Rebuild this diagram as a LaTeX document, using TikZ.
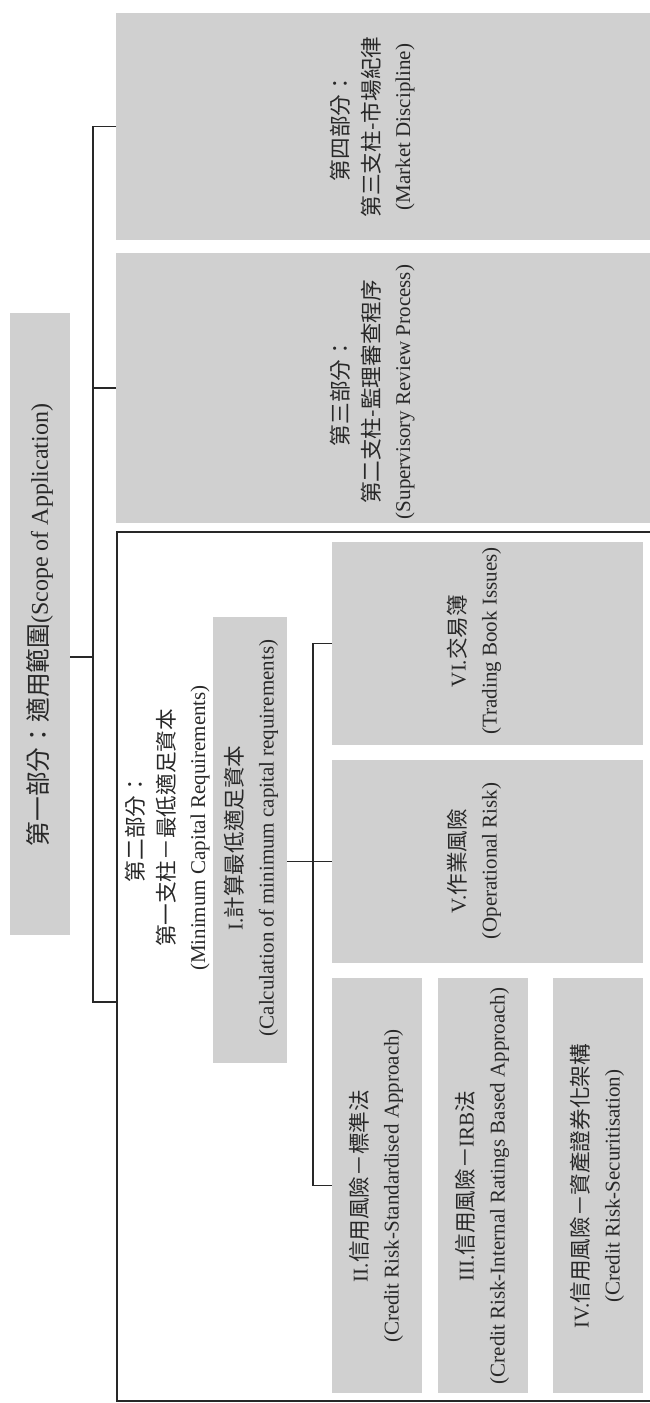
\documentclass[tikz,border=0pt]{standalone}
\usepackage{fontspec}
\usepackage{graphicx}
\setmainfont{Liberation Serif}
\newfontfamily\cjk{Noto Sans CJK TC}[Scale=1.03]
\newcommand\C[1]{{\cjk #1}}
\newcommand\rt[1]{\rotatebox{90}{\fontsize{21}{31}\selectfont\begin{tabular}{@{}c@{}}#1\end{tabular}}}
\definecolor{boxgray}{RGB}{208,208,208}
\definecolor{inkc}{RGB}{40,40,40}
\tikzset{
  box/.style={fill=boxgray, draw=none, inner sep=0pt, outer sep=0pt},
  txt/.style={inner sep=0pt, outer sep=0pt, text=inkc},
  conn/.style={draw=inkc, line width=1.5pt},
  frame/.style={draw=inkc, line width=1.2pt}
}
\begin{document}
\begin{tikzpicture}[x=1pt,y=-1pt]
\useasboundingbox (0,0) rectangle (650,1403);
% boxes
\node[box, minimum width=60pt, minimum height=622pt] (root) at (40,624) {};
\node[box, minimum width=534pt, minimum height=227pt] (mkt) at (383,126.5) {};
\node[box, minimum width=534pt, minimum height=270pt] (sup) at (383,388) {};
\node[inner sep=0pt, outer sep=0pt, minimum width=533pt, minimum height=869pt] (p1) at (383.5,966.5) {};
\node[box, minimum width=74pt, minimum height=446pt] (cal) at (250,840) {};
\node[box, minimum width=311pt, minimum height=203pt] (vi) at (487.5,643.5) {};
\node[box, minimum width=311pt, minimum height=203pt] (v) at (487.5,861.5) {};
\node[box, minimum width=90pt, minimum height=415pt] (ii) at (377,1185.5) {};
\node[box, minimum width=90pt, minimum height=415pt] (iii) at (483,1185.5) {};
\node[box, minimum width=90pt, minimum height=415pt] (iv) at (598,1185.5) {};
% frame of part two (open at the right page edge)
\draw[frame] (p1.north east) -- (p1.north west) -- (p1.south west) -- (p1.south east);
% texts
\node[txt] (rootT) at (40,625) {\rotatebox{90}{\fontsize{24}{29}\selectfont \C{第一部分：適用範圍}(Scope of Application)}};
\node[txt] (mktT) at (373,127) {\rt{\C{第四部分：}\\ \C{第三支柱-市場紀律}\\ (Market Discipline)}};
\node[txt] (supT) at (373,392) {\rt{\C{第三部分：}\\ \C{第二支柱-監理審查程序}\\ (Supervisory Review Process)}};
\node[txt] (p1T) at (168,828) {\rt{\C{第二部分：}\\ \C{第一支柱－最低適足資本}\\ (Minimum Capital Requirements)}};
\node[txt] (calT) at (252,838) {\rt{I.\C{計算最低適足資本}\\ (Calculation of minimum capital requirements)}};
\node[txt] (viT) at (475,641) {\rt{VI.\C{交易簿}\\ (Trading Book Issues)}};
\node[txt] (vT) at (475,861) {\rt{V.\C{作業風險}\\ (Operational Risk)}};
\node[txt] (iiT) at (377,1186) {\rt{II.\C{信用風險－標準法}\\ (Credit Risk-Standardised Approach)}};
\node[txt] (iiiT) at (483,1186) {\rt{III.\C{信用風險－}IRB\C{法}\\ (Credit Risk-Internal Ratings Based Approach)}};
\node[txt] (ivT) at (598,1186) {\rt{IV.\C{信用風險－資產證券化架構}\\ (Credit Risk-Securitisation)}};
% connectors
\coordinate (tx) at (93,0);
\coordinate (p1c) at (117,1002);
\coordinate (bx) at (313,0);
\draw[conn] (mkt.west) -- (mkt.west -| tx) -- (tx |- p1c) -- (p1c);
\draw[conn] (sup.west) -- (sup.west -| tx);
\draw[conn] ([yshift=-33pt]root.east) -- ([yshift=-33pt]root.east -| tx);
\draw[conn] (cal.east |- v.west) -- (v.west);
\draw[conn] (vi.west) -- (vi.west -| bx) -- (bx |- ii.west) -- (ii.west);
\end{tikzpicture}
\end{document}
